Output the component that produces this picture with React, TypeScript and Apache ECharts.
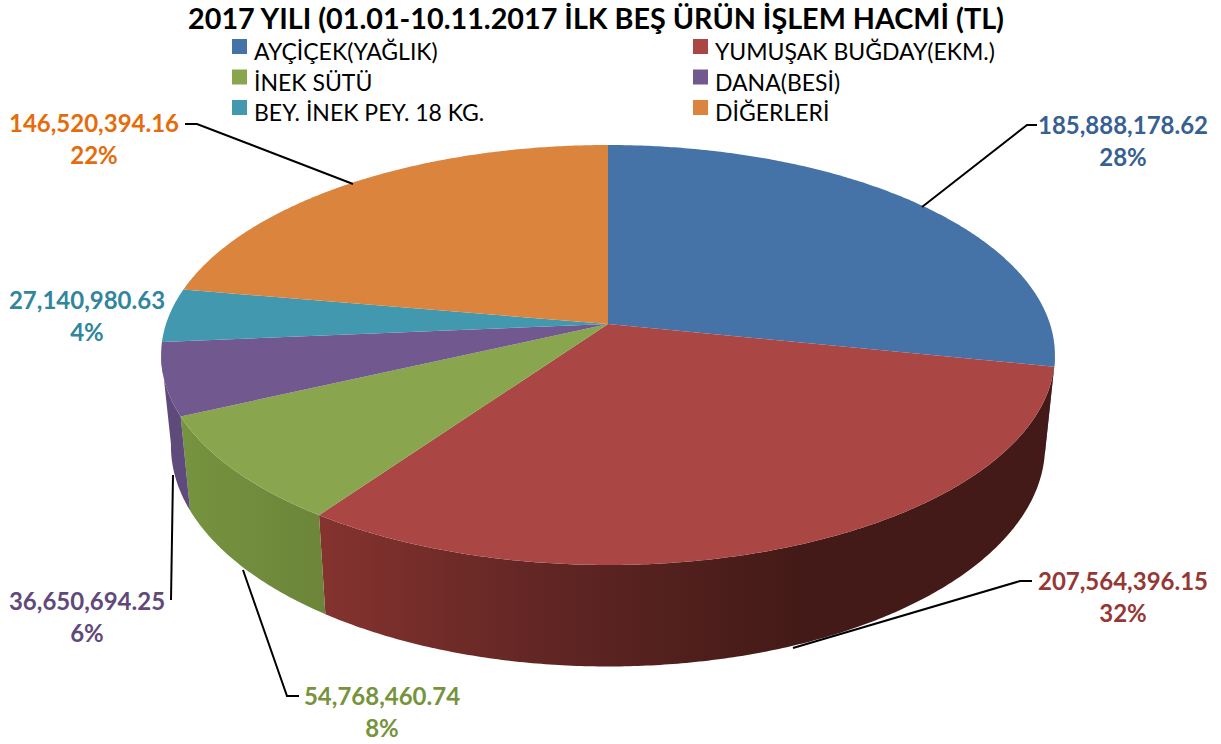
import React, { useEffect, useRef } from "react";
import * as echarts from "echarts";

const titleText = "2017 YILI (01.01-10.11.2017 İLK BEŞ ÜRÜN İŞLEM HACMİ (TL)";
const categories = ["AYÇİÇEK(YAĞLIK)", "YUMUŞAK BUĞDAY(EKM.)", "İNEK SÜTÜ", "DANA(BESİ)", "BEY. İNEK PEY. 18 KG.", "DİĞERLERİ"];
const values = [185888178.62, 207564396.15, 54768460.74, 36650694.25, 27140980.63, 146520394.16];
const topColors = ["#4572a7", "#aa4643", "#89a54e", "#71588f", "#4198af", "#db843d"];
const labelColors = ["#376092", "#953735", "#77933c", "#5f497a", "#31859c", "#e46c0a"];
const labelCenters = [[1123, 124], [1123, 580], [382, 695], [87, 600], [87, 299], [94, 122]];
const leaders: number[][][] = [
  [[922, 207], [1027, 125], [1037, 125]],
  [[793, 648], [1020, 581], [1032, 581]],
  [[243, 570], [287, 696], [299, 696]],
  [[173, 475], [171, 600]],
  [],
  [[353, 184], [197, 124], [185, 124]],
];
const sideStops: [number, string][][] = [
  [[0, "#3a5f8b"], [1, "#3a5f8b"]],
  [[0, "#85332f"], [0.5, "#5f2523"], [1, "#431a17"]],
  [[0, "#76933f"], [1, "#6c853a"]],
  [[0, "#5f4a7c"], [1, "#5f4a7c"]],
  [[0, "#337f94"], [1, "#337f94"]],
  [[0, "#b96f33"], [1, "#b96f33"]],
];
const sideGradX = [[1000, 1060], [318, 800], [185, 325], [160, 190], [160, 170], [160, 600]];

const FONT = "Lato";
const CX = 608, CY = 324, A = 442, B = 205.4, K = 0.1476;
const VIS_A = 98, VIS_B = 262;
const total = values.reduce((a, b) => a + b, 0);

function top(deg: number): [number, number] {
  const t = (deg * Math.PI) / 180;
  const u = Math.sin(t), v = -Math.cos(t), w = 1 - K * v;
  return [CX + (A * u) / w, CY + (B * v) / w];
}
function bottom(deg: number): [number, number] {
  const [x, y] = top(deg);
  return [CX + (x - CX) * 0.978, y + 99 + (y - 515) * 0.05];
}
function arc(f: (d: number) => [number, number], a: number, b: number) {
  const pts: [number, number][] = [];
  const n = Math.max(2, Math.ceil(Math.abs(b - a) * 2));
  for (let i = 0; i <= n; i++) pts.push(f(a + ((b - a) * i) / n));
  return pts;
}

export default function App() {
  const ref = useRef<HTMLDivElement>(null);
  useEffect(() => {
    document.body.style.margin = "0";
    const chart = echarts.init(ref.current!, undefined, { renderer: "svg" });
    let cum = 0;
    const series = categories.map((name, i) => {
      const a0 = (cum / total) * 360;
      cum += values[i];
      const a1 = (cum / total) * 360;
      return {
        type: "custom",
        name,
        coordinateSystem: "none",
        silent: true,
        itemStyle: { color: topColors[i] },
        data: [[values[i]]],
        renderItem: () => {
          const children: any[] = [];
          const s0 = Math.max(a0, VIS_A), s1 = Math.min(a1, VIS_B);
          if (s1 > s0) {
            const pts = [...arc(top, s0, s1), ...arc(bottom, s1, s0)];
            children.push({
              type: "polygon", z2: 1,
              shape: { points: pts },
              style: {
                fill: new echarts.graphic.LinearGradient(sideGradX[i][0], 0, sideGradX[i][1], 0,
                  sideStops[i].map(([offset, color]) => ({ offset, color })), true),
              },
            });
          }
          children.push({
            type: "polygon", z2: 2,
            shape: { points: [[CX, CY], ...arc(top, a0, a1)] },
            style: { fill: topColors[i] },
          });
          if (leaders[i].length) {
            children.push({
              type: "polyline", z2: 5,
              shape: { points: leaders[i] },
              style: { fill: "none", stroke: "#000", lineWidth: 2 },
            });
          }
          const valueText = values[i].toLocaleString("en-US", { minimumFractionDigits: 2, maximumFractionDigits: 2 });
          const pct = Math.round((values[i] / total) * 100) + "%";
          [valueText, pct].forEach((text, k) => {
            children.push({
              type: "text", z2: 6,
              x: labelCenters[i][0], y: labelCenters[i][1] + k * 32.5,
              style: { text, fill: labelColors[i], font: `bold 24px ${FONT}`, align: "center", verticalAlign: "middle" },
            });
          });
          return { type: "group", children };
        },
      };
    });
    const legendBase = {
      orient: "vertical", icon: "rect", itemWidth: 15, itemHeight: 15, itemGap: 7, top: 39, padding: 0,
      selectedMode: false,
      formatter: (n: string) => `{t|${n}}`,
      textStyle: {
        rich: { t: { fontFamily: FONT, fontSize: 23, color: "#000", padding: [9, 0, 0, 2] } },
      },
    };
    chart.setOption({
      animation: false,
      backgroundColor: "#fff",
      title: {
        text: titleText, left: 591, top: -2, textAlign: "center",
        textStyle: { fontFamily: FONT, fontSize: 28.75, fontWeight: "bold", color: "#000" },
      },
      legend: [
        { ...legendBase, left: 232, data: [categories[0], categories[2], categories[4]] },
        { ...legendBase, left: 693, data: [categories[1], categories[3], categories[5]] },
      ],
      series,
    });
    return () => chart.dispose();
  }, []);
  return <div ref={ref} style={{ position: "absolute", left: 0, top: 0, width: 1221, height: 744 }} />;
}
